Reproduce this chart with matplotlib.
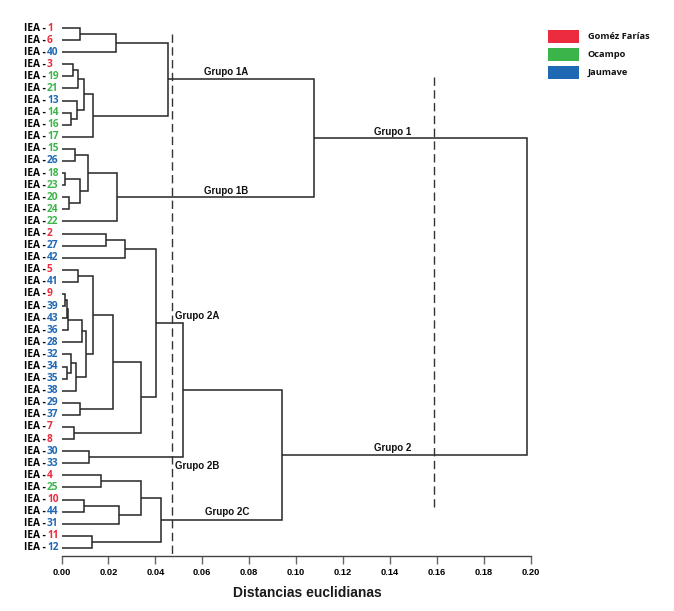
import matplotlib
matplotlib.use("Agg")
import matplotlib.pyplot as plt
from matplotlib.transforms import blended_transform_factory
from matplotlib.patches import Rectangle

# ---------------- data ----------------
leaf_order = ["1", "6", "40", "3", "19", "21", "13", "14", "16", "17",
              "15", "26", "18", "23", "20", "24", "22",
              "2", "27", "42", "5", "41", "9", "39", "43", "36", "28",
              "32", "34", "35", "38", "29", "37", "7", "8", "30", "33",
              "4", "25", "10", "44", "31", "11", "12"]

gomez_farias = ["1", "6", "3", "2", "5", "9", "7", "8", "4", "10", "11"]
ocampo = ["19", "21", "14", "16", "17", "15", "18", "23", "20", "24", "22", "25"]
jaumave = ["40", "13", "26", "27", "42", "41", "39", "43", "36", "28", "32",
           "34", "35", "38", "29", "37", "30", "33", "44", "31", "12"]

# merges: node n{k} = merge_left[k] + merge_right[k] at merge_height[k]
merge_left = ["1", "n0", "3", "n2", "14", "13", "n3", "n6", "n1",
              "15", "18", "20", "n10", "n9", "n13", "n8",
              "2", "n16", "5", "9", "n19", "n20", "n21", "34", "32", "n24",
              "n22", "n18", "29", "n27", "7", "n29", "n17", "30", "n32",
              "4", "10", "n36", "n35", "11", "n38", "n34", "n15"]
merge_right = ["6", "40", "19", "21", "16", "n4", "n5", "17", "n7",
               "26", "23", "24", "n11", "n12", "22", "n14",
               "27", "42", "41", "39", "43", "36", "28", "35", "n23", "38",
               "n25", "n26", "37", "n28", "8", "n30", "n31", "33", "n33",
               "25", "44", "31", "n37", "12", "n39", "n40", "n41"]
merge_height = [0.0081, 0.0231, 0.0050, 0.0069, 0.0040, 0.0064, 0.0095, 0.0135, 0.0453,
                0.0057, 0.0013, 0.0031, 0.0078, 0.0113, 0.0235, 0.1078,
                0.0190, 0.0269, 0.0069, 0.0016, 0.0024, 0.0029, 0.0086, 0.0022, 0.0040, 0.0062,
                0.0105, 0.0133, 0.0078, 0.0218, 0.0055, 0.0338, 0.0402, 0.0116, 0.0519,
                0.0169, 0.0095, 0.0245, 0.0338, 0.0131, 0.0425, 0.0942, 0.1984]

cut_levels = [0.0472, 0.159]
x_ticks = [0.00, 0.02, 0.04, 0.06, 0.08, 0.10, 0.12, 0.14, 0.16, 0.18, 0.20]

group_labels = ["Grupo 1A", "Grupo 1B", "Grupo 1", "Grupo 2", "Grupo 2A", "Grupo 2B", "Grupo 2C"]

legend_names = ["Goméz Farías", "Ocampo", "Jaumave"]
c_red, c_green, c_blue = "#EC2B3E", "#3BB54A", "#1F68B3"
legend_colors = [c_red, c_green, c_blue]

# ---------------- figure ----------------
W, H = 674, 611
fig = plt.figure(figsize=(W / 100, H / 100), dpi=100)
ax_left, ax_right = 61.5, 530.5
ax_top, ax_bot = 20, 556
ax = fig.add_axes([ax_left / W, 1 - ax_bot / H, (ax_right - ax_left) / W, (ax_bot - ax_top) / H])

def py2i(py):
    return (py - 28) / 12.09

def px2x(px):
    return (px - 61.5) / 2345.0

ax.set_xlim(0, 0.20)
ax.set_ylim(py2i(ax_bot), py2i(ax_top))

line_col = "#262626"
pos = {name: (0.0, float(i)) for i, name in enumerate(leaf_order)}
for k, (a, b, h) in enumerate(zip(merge_left, merge_right, merge_height)):
    x1, y1 = pos[a]
    x2, y2 = pos[b]
    ax.plot([x1, h, h, x2], [y1, y1, y2, y2], color=line_col, lw=1.1,
            solid_capstyle="butt", solid_joinstyle="miter", zorder=2)
    pos["n%d" % k] = (h, (y1 + y2) / 2)

# cut lines
ax.plot([cut_levels[0]] * 2, [py2i(34), py2i(558)], color="#333333", lw=1.0,
        dashes=(6, 3.2), zorder=3, clip_on=False)
ax.plot([cut_levels[1]] * 2, [py2i(77), py2i(508)], color="#333333", lw=1.0,
        dashes=(6, 3.2), zorder=3, clip_on=False)

# group labels
glab_pos = [(226.5, 72), (226, 190.5), (393, 131.5), (392.7, 448.3),
            (197.5, 316), (197.5, 466), (226.7, 512.3)]
for txt, (px, py) in zip(group_labels, glab_pos):
    ax.text(px2x(px), py2i(py), txt, ha="center", va="center", fontsize=7,
            fontweight="bold", family="Liberation Sans", color="#111111", zorder=4)

# leaf labels
tr = blended_transform_factory(fig.transFigure, ax.transData)
for i, name in enumerate(leaf_order):
    if name in gomez_farias:
        col = c_red
    elif name in ocampo:
        col = c_green
    else:
        col = c_blue
    ax.text(24 / W, i, "IEA -", transform=tr, ha="left", va="center",
            fontsize=7.3, fontweight="bold", family="Open Sans", color="black")
    ax.text(47 / W, i, name, transform=tr, ha="left", va="center",
            fontsize=7.3, fontweight="bold", family="Open Sans", color=col)

# axis styling
for s in ["left", "right", "top"]:
    ax.spines[s].set_visible(False)
ax.spines["bottom"].set_color("#444444")
ax.spines["bottom"].set_linewidth(1.0)
ax.set_yticks([])
ax.set_xticks(x_ticks)
ax.set_xticklabels(["%.2f" % t for t in x_ticks], fontsize=6.7, fontweight="bold",
                   family="Liberation Sans")
ax.tick_params(axis="x", length=6, width=1.0, color="#666666", pad=2.5, direction="out")

fig.text(307 / W, 1 - 593 / H, "Distancias euclidianas", ha="center", va="center",
         fontsize=10, fontweight="bold", family="Liberation Sans", color="#1a1a1a")

# legend
leg_y = [30, 48.3, 66]
for name, col, y0 in zip(legend_names, legend_colors, leg_y):
    fig.patches.append(Rectangle((548.3 / W, 1 - (y0 + 12.7) / H), 30.7 / W, 12.7 / H,
                                 transform=fig.transFigure, facecolor=col, edgecolor="none"))
    fig.text(588 / W, 1 - (y0 + 6.4) / H, name, ha="left", va="center", fontsize=6.7,
             fontweight="bold", family="Open Sans", color="#111111")

fig.savefig("out.png", dpi=100)
